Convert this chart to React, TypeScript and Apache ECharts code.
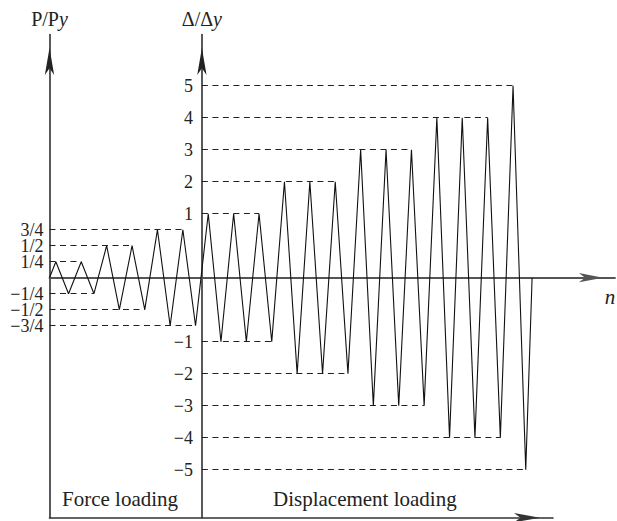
import { useEffect, useRef } from "react";
import * as echarts from "echarts";

// ---- Loading protocol ----
// x position of each turning point, counted in quarter cycles from the start
const forceSteps = [0, 1, 3, 5, 7, 9, 11, 13, 15, 17, 19, 21, 23];
// P/Py at each turning point (force-controlled stage)
const forceLevels = [0, 0.25, -0.25, 0.25, -0.25, 0.5, -0.5, 0.5, -0.5, 0.75, -0.75, 0.75, -0.75];
// displacement-controlled stage
const dispSteps = [25, 27, 29, 31, 33, 35, 37, 39, 41, 43, 45, 47, 49, 51, 53, 55, 57, 59, 61, 63, 65, 67, 69, 71, 73, 75, 76];
const dispLevels = [1, -1, 1, -1, 1, -1, 2, -2, 2, -2, 2, -2, 3, -3, 3, -3, 3, -3, 4, -4, 4, -4, 4, -4, 5, -5, 0];
const switchStep = 24; // step where the Δ/Δy axis stands

// tick labels
const forceTicks = [0.75, 0.5, 0.25, -0.25, -0.5, -0.75];
const forceTickLabels = ["3/4", "1/2", "1/4", "\u22121/4", "\u22121/2", "\u22123/4"];
const dispTicks = [5, 4, 3, 2, 1, -1, -2, -3, -4, -5];
const dispTickLabels = ["5", "4", "3", "2", "1", "\u22121", "\u22122", "\u22123", "\u22124", "\u22125"];

const stageLabels = ["Force loading", "Displacement loading"];

// plotted height of each quantity on the schematic's shared vertical scale
const fy = (f: number) => 2 * f;
const dy = (d: number) => (d === 0 ? 0 : Math.sign(d) * (Math.abs(d) + 1));

const FONT = '"Liberation Serif", "Times New Roman", serif';

export default function App() {
  const ref = useRef<HTMLDivElement>(null);

  useEffect(() => {
    if (!ref.current) return;
    const chart = echarts.init(ref.current, undefined, { renderer: "svg" });

    const LEFT = 49.5;
    const XU = 6.35; // px per quarter cycle
    const TOP = 34.5; // arrow tips of vertical axes
    const ZERO = 277.7;
    const YU = 32;
    const yMin = -7.5;
    const yMax = (ZERO - TOP) / YU;
    const H = (ZERO - TOP) + (-yMin) * YU;
    const W0 = 553 - LEFT; // bottom axis
    const W1 = 615 - LEFT; // n axis

    const zig: number[][] = [
      ...forceSteps.map((s, i) => [s, fy(forceLevels[i])]),
      ...dispSteps.map((s, i) => [s, dy(dispLevels[i])]),
    ];

    const lastStep = (steps: number[], levels: number[], lv: number) => {
      let e = 0;
      levels.forEach((v, i) => {
        if (v === lv) e = Math.max(e, steps[i]);
      });
      return e;
    };

    const dashData = [
      ...forceTicks.map((t) => ({
        coords: [
          [0, fy(t)],
          [lastStep(forceSteps, forceLevels, t), fy(t)],
        ],
      })),
      ...dispTicks.map((t) => ({
        coords: [
          [switchStep, dy(t)],
          [lastStep(dispSteps, dispLevels, t), dy(t)],
        ],
      })),
    ];

    const near = (a: number, b: number) => Math.abs(a - b) < 1e-6;

    const axisColor = "#222";
    const yBase = {
      min: yMin,
      max: yMax,
      interval: 0.5,
      splitLine: { show: false },
      axisTick: { show: false },
    };

    const nameRich = {
      a: { fontFamily: FONT, fontSize: 20, color: "#222" },
      b: { fontFamily: FONT, fontSize: 20, fontStyle: "italic", color: "#222" },
    };

    chart.setOption({
      animation: false,
      backgroundColor: "#fff",
      grid: [
        { left: LEFT, top: TOP, width: W0, height: H },
        { left: LEFT, top: TOP, width: W1, height: H },
      ],
      xAxis: [
        {
          type: "value",
          gridIndex: 0,
          min: 0,
          max: W0 / XU,
          position: "bottom",
          axisLine: {
            onZero: false,
            symbol: ["none", "arrow"],
            symbolSize: [7, 26],
            symbolOffset: [0, -13],
            lineStyle: { color: "#333", width: 1.6 },
          },
          axisTick: { show: false },
          axisLabel: { show: false },
          splitLine: { show: false },
        },
        {
          type: "value",
          gridIndex: 1,
          min: 0,
          max: W1 / XU,
          axisLine: {
            onZero: true,
            symbol: ["none", "arrow"],
            symbolSize: [7, 24],
            symbolOffset: [0, -12],
            lineStyle: { color: "#555", width: 1.8 },
          },
          axisTick: { show: false },
          axisLabel: { show: false },
          splitLine: { show: false },
        },
      ],
      yAxis: [
        {
          type: "value",
          gridIndex: 0,
          position: "left",
          ...yBase,
          axisLine: {
            onZero: false,
            symbol: ["none", "arrow"],
            symbolSize: [7, 27],
            symbolOffset: [0, -13.5],
            lineStyle: { color: axisColor, width: 1.5 },
          },
          axisLabel: {
            margin: 6,
            fontFamily: FONT,
            fontSize: 18,
            color: "#222",
            lineHeight: 14,
            showMinLabel: true,
            showMaxLabel: true,
            formatter: (v: number) => {
              const i = forceTicks.findIndex((t) => near(fy(t), v));
              return i >= 0 ? forceTickLabels[i] : "";
            },
          },
          name: "{a|P/P}{b|y}",
          nameLocation: "end",
          nameGap: 6,
          nameTextStyle: { rich: nameRich },
        },
        {
          type: "value",
          gridIndex: 0,
          position: "left",
          offset: -switchStep * XU,
          ...yBase,
          axisLine: {
            onZero: false,
            symbol: ["none", "arrow"],
            symbolSize: [7, 27],
            symbolOffset: [0, -13.5],
            lineStyle: { color: axisColor, width: 1.5 },
          },
          axisLabel: {
            margin: 9,
            fontFamily: FONT,
            fontSize: 18,
            color: "#222",
            lineHeight: 14,
            showMinLabel: true,
            showMaxLabel: true,
            formatter: (v: number) => {
              const i = dispTicks.findIndex((t) => near(dy(t), v));
              return i >= 0 ? dispTickLabels[i] : "";
            },
          },
          name: "{a|\u0394/\u0394}{b|y}",
          nameLocation: "end",
          nameGap: 6,
          nameTextStyle: { rich: nameRich },
        },
        {
          type: "value",
          gridIndex: 1,
          show: false,
          min: yMin,
          max: yMax,
          splitLine: { show: false },
        },
      ],
      series: [
        {
          type: "lines",
          coordinateSystem: "cartesian2d",
          xAxisIndex: 0,
          yAxisIndex: 0,
          polyline: false,
          silent: true,
          lineStyle: { color: "#222", width: 1, type: [6, 4.5], opacity: 1 },
          data: dashData,
          z: 2,
        },
        {
          type: "line",
          xAxisIndex: 0,
          yAxisIndex: 0,
          data: zig,
          symbol: "none",
          silent: true,
          lineStyle: { color: "#111", width: 1.1 },
          z: 3,
        },
      ],
      graphic: [
        {
          type: "text",
          x: 62,
          y: 499,
          style: {
            text: stageLabels[0],
            fontFamily: FONT,
            fontSize: 21,
            fill: "#222",
            verticalAlign: "middle",
          },
        },
        {
          type: "text",
          x: 273,
          y: 499,
          style: {
            text: stageLabels[1],
            fontFamily: FONT,
            fontSize: 21,
            fill: "#222",
            verticalAlign: "middle",
          },
        },
        {
          type: "text",
          x: 610,
          y: 297,
          style: {
            text: "n",
            fontFamily: FONT,
            fontSize: 21,
            fontStyle: "italic",
            fill: "#222",
            align: "center",
            verticalAlign: "middle",
          },
        },
      ],
    });

    return () => chart.dispose();
  }, []);

  return (
    <div
      ref={ref}
      style={{ position: "fixed", left: 0, top: 0, width: 617, height: 521, background: "#fff" }}
    />
  );
}
